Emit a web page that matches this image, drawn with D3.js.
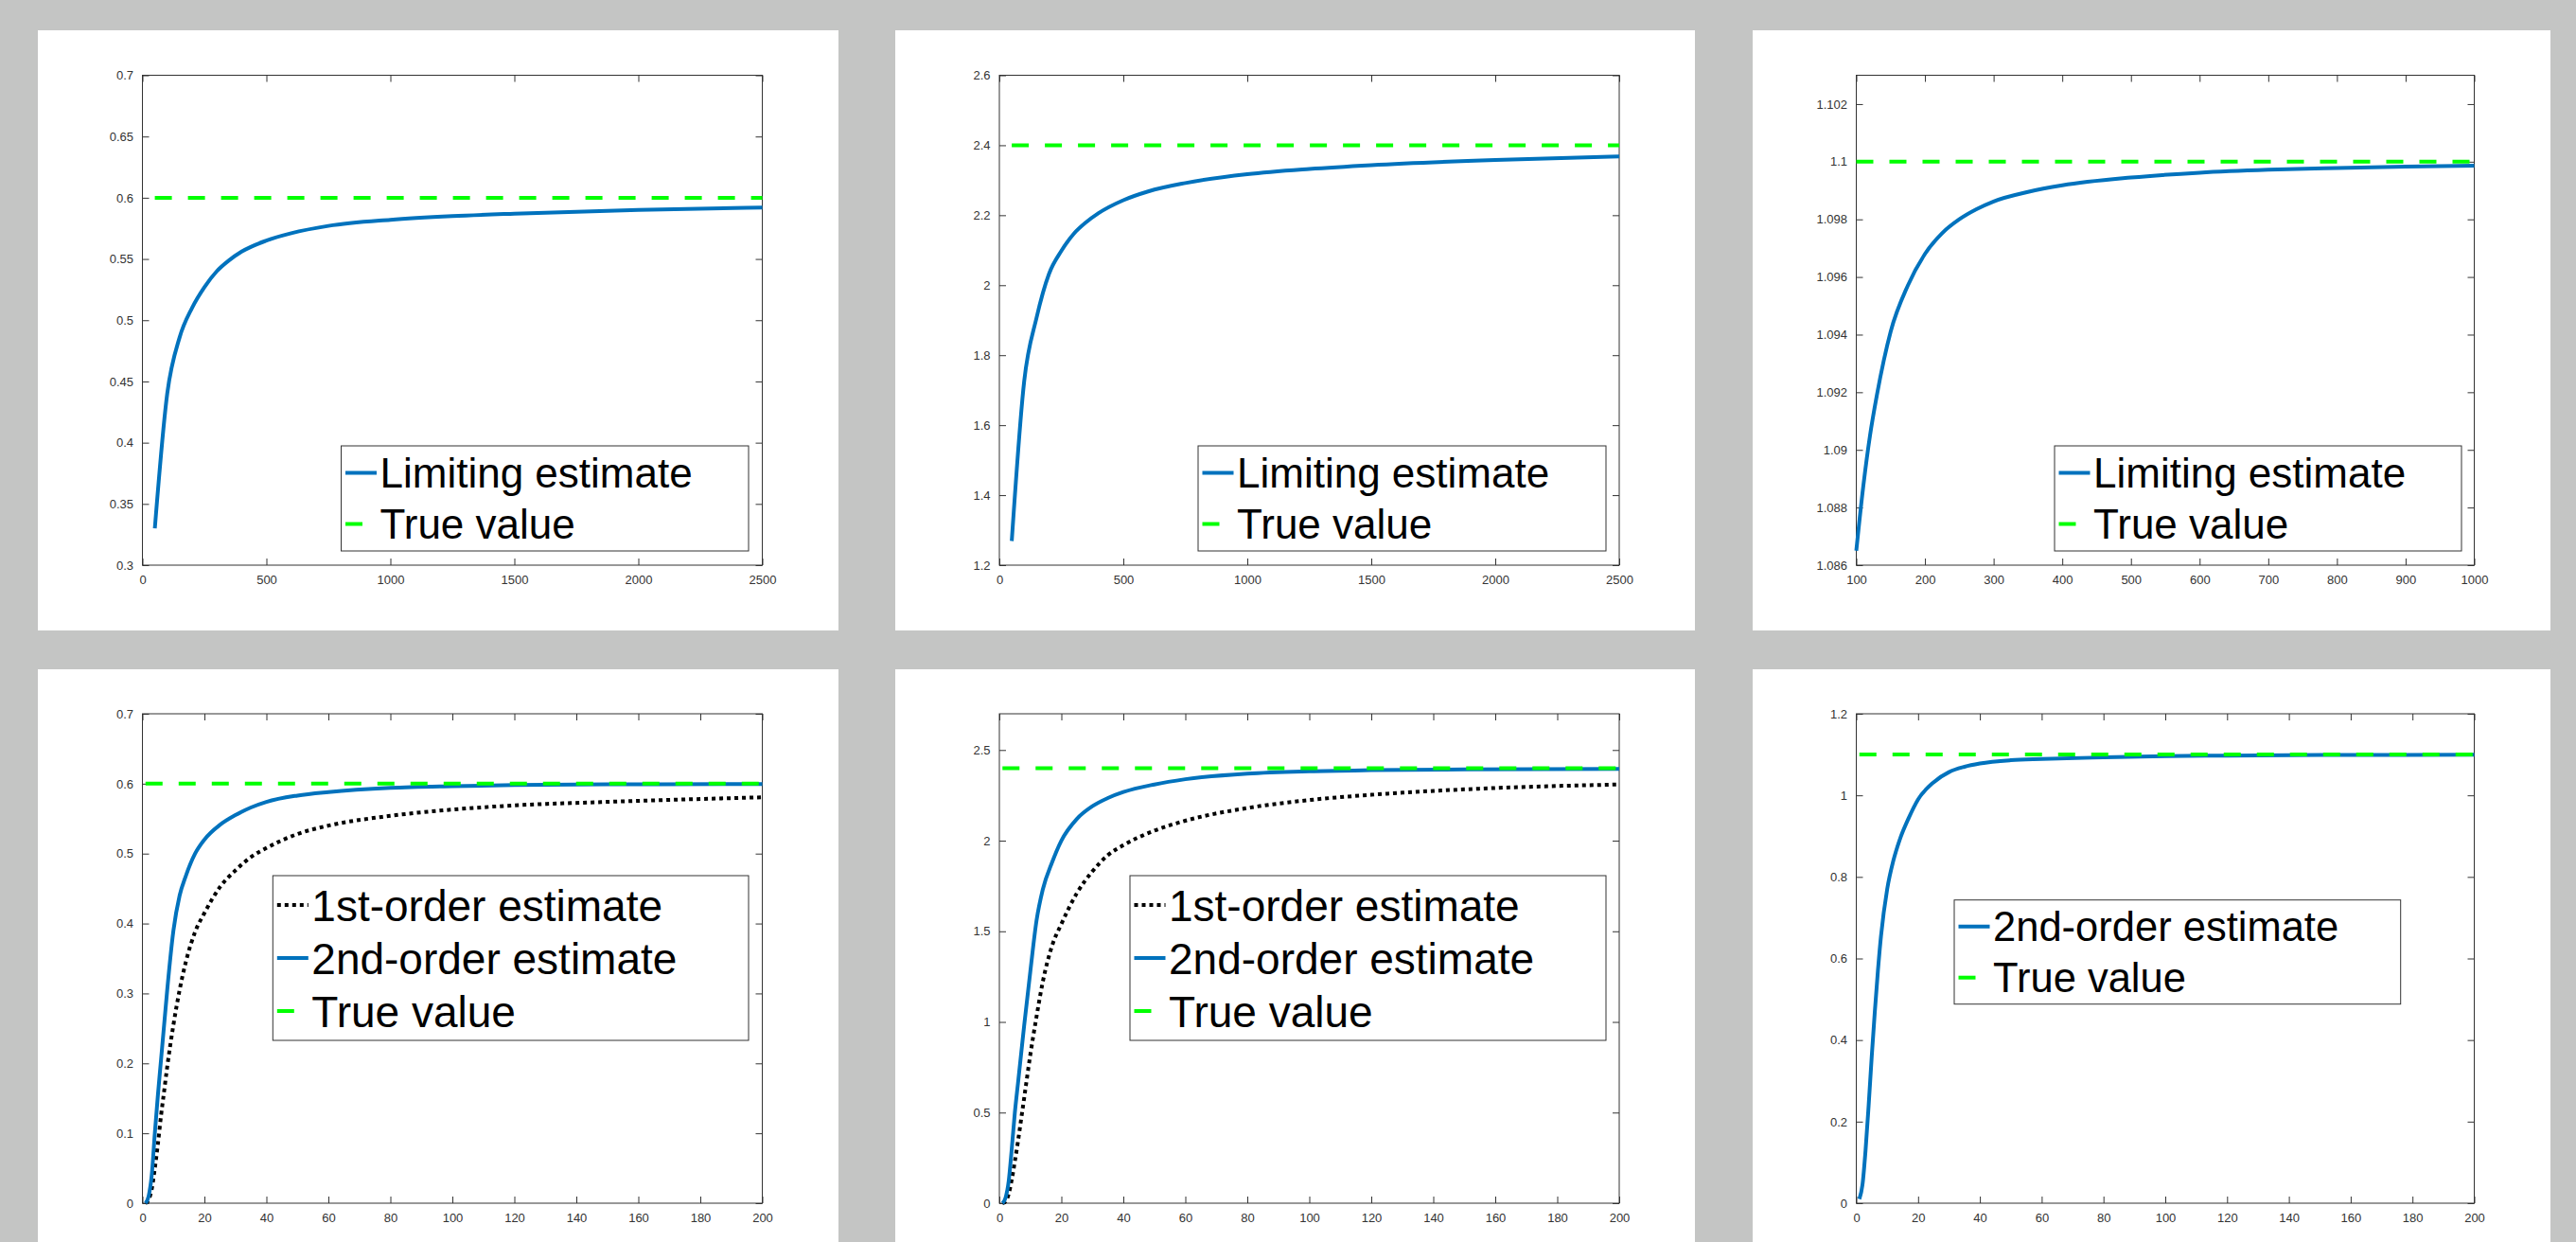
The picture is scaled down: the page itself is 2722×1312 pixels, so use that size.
<!DOCTYPE html>
<html>
<head>
<meta charset="utf-8">
<script src="https://cdn.jsdelivr.net/npm/d3@7"></script>
<style>
  html, body { margin: 0; padding: 0; background: #c4c5c4; overflow: hidden; }
  svg { display: block; font-family: "Liberation Sans", Arial, sans-serif; }
</style>
</head>
<body>
<div id="chart"></div>
<script>
// values
const nWide = [50, 100, 150, 200, 250, 300, 350, 400, 500, 600, 750, 1000, 1250, 1500, 2000, 2500];
const limitingA = [0.33, 0.44, 0.486, 0.51, 0.527, 0.54, 0.549, 0.556, 0.565, 0.571, 0.577, 0.582, 0.585, 0.587, 0.59, 0.592];
const limitingB = [1.269, 1.725, 1.907, 2.032, 2.098, 2.147, 2.18, 2.206, 2.243, 2.268, 2.292, 2.317, 2.332, 2.343, 2.358, 2.368];

const nNarrow = [100, 110, 120, 130, 140, 150, 175, 200, 225, 250, 275, 300, 350, 400, 500, 600, 700, 800, 900, 1000];
const limitingC = [1.0865, 1.0887, 1.0905, 1.0919, 1.0931, 1.0941, 1.0957, 1.0968, 1.09752, 1.098, 1.09835, 1.09862, 1.09895, 1.09918, 1.09945, 1.09962, 1.09972, 1.09978, 1.09983, 1.09986];

const nOrder = [1, 2, 3, 4, 5, 6, 7, 8, 10, 12, 14, 17, 20, 25, 30, 35, 40, 50, 60, 80, 100, 120, 150, 200];
const firstOrderA = [0, 0.005, 0.02, 0.05, 0.085, 0.125, 0.16, 0.195, 0.255, 0.305, 0.345, 0.388, 0.415, 0.452, 0.476, 0.495, 0.508, 0.528, 0.54, 0.554, 0.563, 0.569, 0.574, 0.5805];
const secondOrderA = [0, 0.01, 0.04, 0.1, 0.155, 0.205, 0.255, 0.305, 0.39, 0.44, 0.468, 0.5, 0.52, 0.541, 0.555, 0.566, 0.574, 0.583, 0.588, 0.594, 0.5965, 0.598, 0.599, 0.5995];
const firstOrderB = [0, 0.01, 0.05, 0.13, 0.23, 0.34, 0.46, 0.58, 0.82, 1.03, 1.22, 1.42, 1.54, 1.71, 1.83, 1.92, 1.975, 2.055, 2.11, 2.18, 2.224, 2.253, 2.283, 2.31];
const secondOrderB = [0, 0.03, 0.12, 0.3, 0.5, 0.66, 0.82, 0.98, 1.28, 1.56, 1.73, 1.88, 2.0, 2.12, 2.19, 2.235, 2.268, 2.31, 2.339, 2.37, 2.383, 2.389, 2.393, 2.396];
const secondOrderC = [0.01, 0.045, 0.13, 0.24, 0.36, 0.47, 0.57, 0.655, 0.77, 0.84, 0.89, 0.945, 0.99, 1.032, 1.057, 1.07, 1.078, 1.086, 1.089, 1.093, 1.096, 1.0975, 1.0988, 1.0995];

const trueValues = [0.6, 2.4, 1.1];

const ticksWideX = [0, 500, 1000, 1500, 2000, 2500];
const ticksNarrowX = [100, 200, 300, 400, 500, 600, 700, 800, 900, 1000];
const ticksOrderX = [0, 20, 40, 60, 80, 100, 120, 140, 160, 180, 200];
const ticksLimitA = [0.3, 0.35, 0.4, 0.45, 0.5, 0.55, 0.6, 0.65, 0.7];
const ticksLimitB = [1.2, 1.4, 1.6, 1.8, 2, 2.2, 2.4, 2.6];
const ticksLimitC = [1.086, 1.088, 1.09, 1.092, 1.094, 1.096, 1.098, 1.1, 1.102];
const ticksOrderA = [0, 0.1, 0.2, 0.3, 0.4, 0.5, 0.6, 0.7];
const ticksOrderB = [0, 0.5, 1, 1.5, 2, 2.5];
const ticksOrderC = [0, 0.2, 0.4, 0.6, 0.8, 1, 1.2];

const labelLimiting = "Limiting estimate";
const labelFirst = "1st-order estimate";
const labelSecond = "2nd-order estimate";
const labelTrue = "True value";

// layout
const W = 2722, H = 1312;
const columnsX = [[150.5, 805.5], [1056, 1711], [1961.5, 2614.5]];
const rowsY = [[79.5, 597], [754, 1271]];
const paperX = [[40, 886], [946, 1791], [1852, 2695]];
const paperY = [[32, 666], [707, 1340]];

const styles = {
  first: { stroke: "#000000", dash: "4,4" },
  estimate: { stroke: "#0072bd", dash: null },
  truth: { stroke: "#00ff00", dash: "18,17" },
};

const tickFormat = d3.format("~f");

class EstimatePanel {
  constructor({ root, col, row, xDomain, yDomain, xTicks, yTicks, series, legend }) {
    this.root = root;
    this.col = col;
    this.row = row;
    this.xTicks = xTicks;
    this.yTicks = yTicks;
    this.series = series;
    this.legend = legend;
    this.x = d3.scaleLinear().domain(xDomain).range(columnsX[col]);
    this.y = d3.scaleLinear().domain(yDomain).range([rowsY[row][1], rowsY[row][0]]);
    this.init();
  }

  init() {
    const [px0, px1] = paperX[this.col];
    const [py0, py1] = paperY[this.row];
    this.root
      .append("rect")
      .attr("x", px0)
      .attr("y", py0)
      .attr("width", px1 - px0)
      .attr("height", py1 - py0)
      .attr("fill", "#ffffff");
    this.g = this.root.append("g");
  }

  render() {
    this.renderAxes();
    this.renderLines();
    this.renderLegend();
  }

  renderAxes() {
    const [x0, x1] = this.x.range();
    const [y0, y1] = this.y.range();
    const color = "#333333";

    const styleAxis = (g, labels) => {
      g.attr("color", color);
      g.select(".domain").remove();
      g.selectAll(".tick line").attr("stroke-width", 1);
      g.selectAll("text")
        .attr("font-size", 13)
        .attr("font-family", "'Liberation Sans', Arial, sans-serif")
        .attr("fill", color);
      if (!labels) g.selectAll("text").remove();
    };

    this.g
      .append("g")
      .attr("transform", `translate(0,${y0})`)
      .call(d3.axisBottom(this.x).tickValues(this.xTicks).tickSize(-7).tickPadding(11).tickFormat(tickFormat))
      .call((g) => styleAxis(g, true));
    this.g
      .append("g")
      .attr("transform", `translate(0,${y1})`)
      .call(d3.axisTop(this.x).tickValues(this.xTicks).tickSize(-7))
      .call((g) => styleAxis(g, false));
    this.g
      .append("g")
      .attr("transform", `translate(${x0},0)`)
      .call(d3.axisLeft(this.y).tickValues(this.yTicks).tickSize(-7).tickPadding(9.5).tickFormat(tickFormat))
      .call((g) => styleAxis(g, true));
    this.g
      .append("g")
      .attr("transform", `translate(${x1},0)`)
      .call(d3.axisRight(this.y).tickValues(this.yTicks).tickSize(-7))
      .call((g) => styleAxis(g, false));

    this.g
      .append("rect")
      .attr("x", x0)
      .attr("y", y1)
      .attr("width", x1 - x0)
      .attr("height", y0 - y1)
      .attr("fill", "none")
      .attr("stroke", color)
      .attr("stroke-width", 1);
  }

  renderLines() {
    const line = d3
      .line()
      .x((d) => this.x(d[0]))
      .y((d) => this.y(d[1]))
      .curve(d3.curveMonotoneX);

    this.g
      .selectAll(".series")
      .data(this.series)
      .join("path")
      .attr("class", "series")
      .attr("d", (s) => line(d3.zip(s.x, s.y)))
      .attr("fill", "none")
      .attr("stroke", (s) => styles[s.kind].stroke)
      .attr("stroke-width", 4)
      .attr("stroke-dasharray", (s) => styles[s.kind].dash);
  }

  renderLegend() {
    const { left, top, width, height, fontSize, gap } = this.legend;
    const n = this.series.length;
    const pad = (height - (n - 1) * gap) / 2;

    const lg = this.g.append("g").attr("transform", `translate(${left},${top})`);
    lg.append("rect")
      .attr("width", width)
      .attr("height", height)
      .attr("fill", "#ffffff")
      .attr("stroke", "#333333")
      .attr("stroke-width", 1);

    const item = lg
      .selectAll(".item")
      .data(this.series)
      .join("g")
      .attr("class", "item")
      .attr("transform", (d, i) => `translate(0,${pad + i * gap})`);

    item
      .append("line")
      .attr("x1", 4.5)
      .attr("x2", 37.5)
      .attr("stroke", (s) => styles[s.kind].stroke)
      .attr("stroke-width", 4)
      .attr("stroke-dasharray", (s) => styles[s.kind].dash);

    item
      .append("text")
      .attr("x", 41)
      .attr("y", fontSize * 0.36)
      .attr("font-size", fontSize)
      .attr("fill", "#000000")
      .text((s) => s.label);
  }
}

const svg = d3
  .select("#chart")
  .append("svg")
  .attr("width", W)
  .attr("height", H);

svg.append("rect").attr("width", W).attr("height", H).attr("fill", "#c4c5c4");

const truthLine = (xs, v) => ({
  kind: "truth",
  label: labelTrue,
  x: [xs[0], xs[xs.length - 1]],
  y: [v, v],
});

const panels = [
  {
    col: 0, row: 0, xDomain: [0, 2500], yDomain: [0.3, 0.7], xTicks: ticksWideX, yTicks: ticksLimitA,
    series: [{ kind: "estimate", label: labelLimiting, x: nWide, y: limitingA }, truthLine(nWide, trueValues[0])],
    legend: { left: 360.5, top: 471, width: 430.5, height: 111, fontSize: 44, gap: 54 },
  },
  {
    col: 1, row: 0, xDomain: [0, 2500], yDomain: [1.2, 2.6], xTicks: ticksWideX, yTicks: ticksLimitB,
    series: [{ kind: "estimate", label: labelLimiting, x: nWide, y: limitingB }, truthLine(nWide, trueValues[1])],
    legend: { left: 1266, top: 471, width: 431, height: 111, fontSize: 44, gap: 54 },
  },
  {
    col: 2, row: 0, xDomain: [100, 1000], yDomain: [1.086, 1.103], xTicks: ticksNarrowX, yTicks: ticksLimitC,
    series: [{ kind: "estimate", label: labelLimiting, x: nNarrow, y: limitingC }, truthLine(nNarrow, trueValues[2])],
    legend: { left: 2171, top: 471, width: 430, height: 111, fontSize: 44, gap: 54 },
  },
  {
    col: 0, row: 1, xDomain: [0, 200], yDomain: [0, 0.7], xTicks: ticksOrderX, yTicks: ticksOrderA,
    series: [
      { kind: "first", label: labelFirst, x: nOrder, y: firstOrderA },
      { kind: "estimate", label: labelSecond, x: nOrder, y: secondOrderA },
      truthLine(nOrder, trueValues[0]),
    ],
    legend: { left: 288.3, top: 925, width: 502.7, height: 174, fontSize: 46, gap: 56 },
  },
  {
    col: 1, row: 1, xDomain: [0, 200], yDomain: [0, 2.7], xTicks: ticksOrderX, yTicks: ticksOrderB,
    series: [
      { kind: "first", label: labelFirst, x: nOrder, y: firstOrderB },
      { kind: "estimate", label: labelSecond, x: nOrder, y: secondOrderB },
      truthLine(nOrder, trueValues[1]),
    ],
    legend: { left: 1194, top: 925, width: 503, height: 174, fontSize: 46, gap: 56 },
  },
  {
    col: 2, row: 1, xDomain: [0, 200], yDomain: [0, 1.2], xTicks: ticksOrderX, yTicks: ticksOrderC,
    series: [
      { kind: "estimate", label: labelSecond, x: nOrder, y: secondOrderC },
      truthLine(nOrder, trueValues[2]),
    ],
    legend: { left: 2065, top: 950.7, width: 471.7, height: 110, fontSize: 43.5, gap: 54 },
  },
];

panels.forEach((p) => new EstimatePanel({ root: svg, ...p }).render());
</script>
</body>
</html>
